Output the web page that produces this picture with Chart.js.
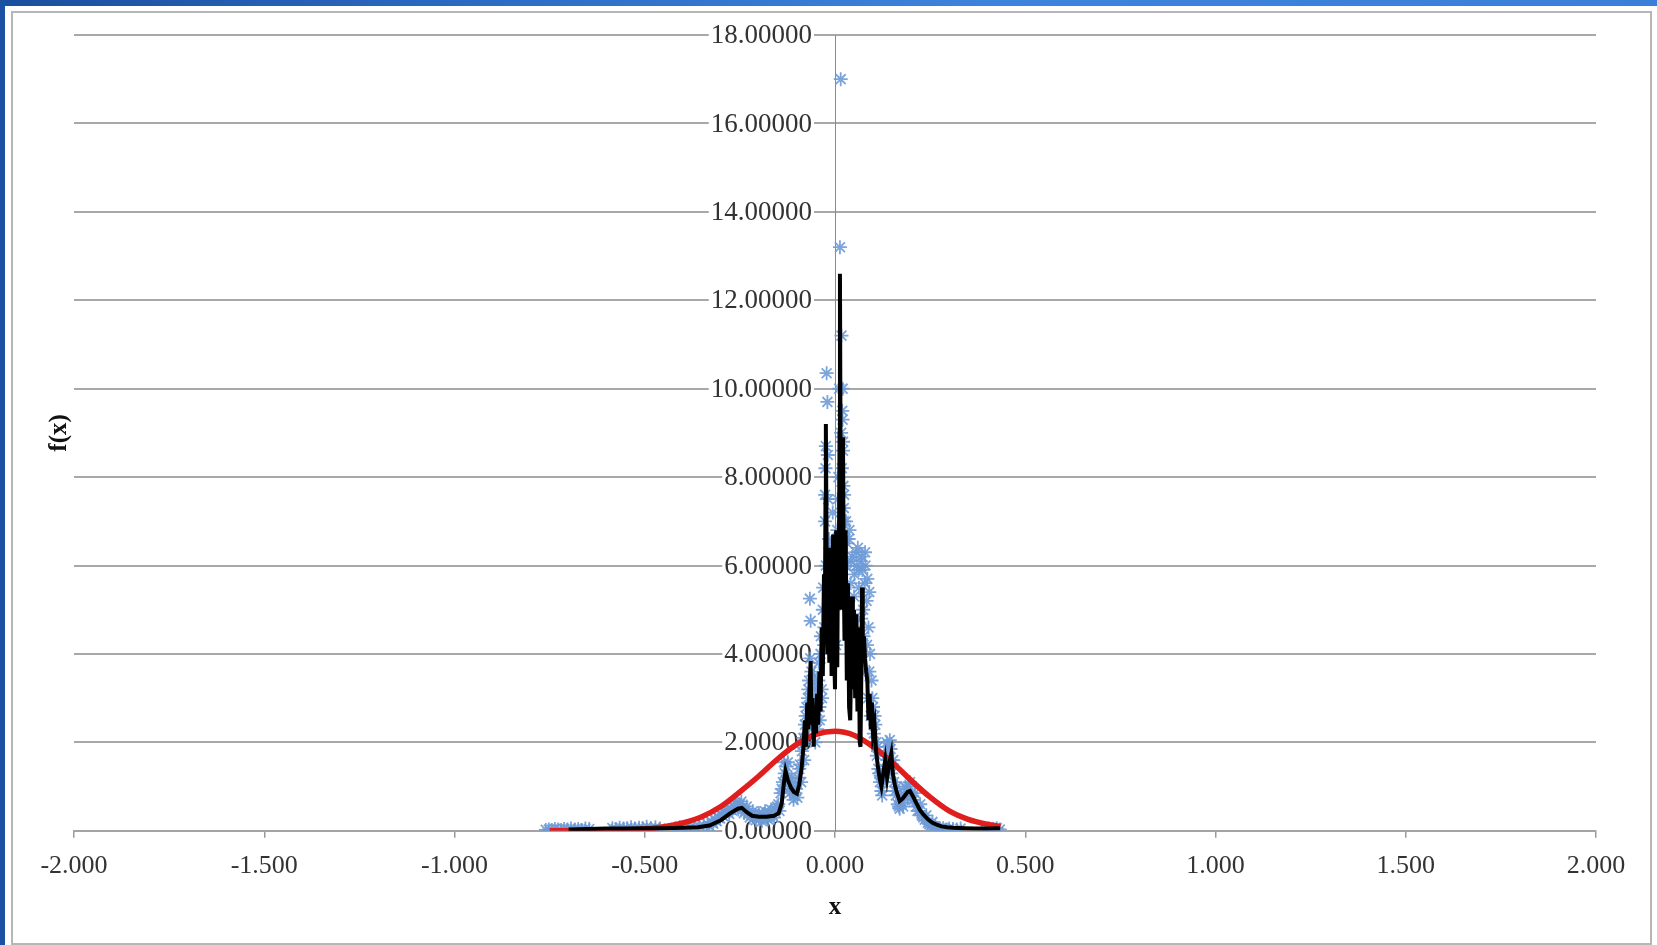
<!DOCTYPE html>
<html>
<head>
<meta charset="utf-8">
<script src="https://cdn.jsdelivr.net/npm/chart.js@4.4.0/dist/chart.umd.min.js"></script>
<style>
  html, body { margin: 0; padding: 0; background: #fff; }
  #wrap { position: relative; width: 1657px; height: 945px; overflow: hidden; background: #fff; }
  #topbar { position: absolute; left: 0; top: 0; width: 1657px; height: 6px;
            background: linear-gradient(to right, #1b4e9e, #2d6cc4 30%, #3d84de 60%, #3a80da); }
  #leftbar { position: absolute; left: 0; top: 0; width: 5px; height: 945px; background: #1b51a2; }
  #frame { position: absolute; left: 11px; top: 11px; width: 1637px; height: 930px; border: 2px solid #b6b6b6; }
  canvas { position: absolute; left: 0; top: 0; }
</style>
</head>
<body>
<div id="wrap">
  <div id="topbar"></div>
  <div id="leftbar"></div>
  <div id="frame"></div>
  <canvas id="densityChart" width="1657" height="945"></canvas>
</div>
<script>
// Curva normal ajustada (roja)
const redX = [-0.75, -0.70, -0.65, -0.60, -0.55, -0.50, -0.45, -0.40, -0.35, -0.30, -0.25, -0.20,
  -0.15, -0.10, -0.05, 0.00, 0.05, 0.10, 0.15, 0.20, 0.25, 0.30, 0.35, 0.40, 0.435];
const redY = [0.00, 0.00, 0.00, 0.01, 0.02, 0.04, 0.09, 0.18, 0.32, 0.55, 0.88, 1.24,
  1.63, 1.96, 2.18, 2.25, 2.16, 1.90, 1.55, 1.14, 0.76, 0.45, 0.26, 0.15, 0.10];

// Densidad suavizada (línea negra)
const blackX = [-0.700, -0.650, -0.600, -0.550, -0.500, -0.450, -0.400, -0.360, -0.330, -0.300,
  -0.275, -0.255, -0.245, -0.232, -0.218, -0.200, -0.180, -0.160, -0.148, -0.140,
  -0.134, -0.130, -0.124, -0.116, -0.108, -0.100, -0.094, -0.088, -0.083, -0.079,
  -0.076, -0.073, -0.070, -0.067, -0.064, -0.062, -0.059, -0.056, -0.053, -0.050,
  -0.047, -0.044, -0.041, -0.038, -0.035, -0.032, -0.029, -0.027, -0.025, -0.024,
  -0.022, -0.020, -0.018, -0.015, -0.012, -0.009, -0.006, -0.005, -0.003, 0.000,
  0.003, 0.006, 0.008, 0.010, 0.012, 0.013, 0.015, 0.017, 0.019, 0.021,
  0.023, 0.025, 0.028, 0.031, 0.034, 0.037, 0.040, 0.043, 0.045, 0.047,
  0.050, 0.053, 0.056, 0.059, 0.062, 0.065, 0.067, 0.069, 0.071, 0.073,
  0.076, 0.079, 0.082, 0.085, 0.088, 0.091, 0.094, 0.097, 0.100, 0.104,
  0.108, 0.112, 0.117, 0.122, 0.127, 0.132, 0.137, 0.142, 0.148, 0.152,
  0.157, 0.163, 0.170, 0.177, 0.184, 0.191, 0.197, 0.205, 0.214, 0.223,
  0.232, 0.244, 0.256, 0.267, 0.280, 0.295, 0.310, 0.340, 0.370, 0.400, 0.434];
const blackY = [0.03, 0.04, 0.05, 0.05, 0.06, 0.06, 0.07, 0.08, 0.12, 0.24,
  0.40, 0.50, 0.52, 0.42, 0.34, 0.32, 0.32, 0.34, 0.40, 0.62,
  1.10, 1.35, 1.15, 0.98, 0.88, 0.84, 1.05, 1.40, 1.90, 2.50,
  1.90, 2.90, 2.30, 3.20, 3.84, 2.40, 3.00, 1.90, 2.80, 2.20,
  3.10, 2.40, 3.60, 2.70, 4.60, 3.50, 5.80, 4.20, 7.50, 9.20,
  6.20, 4.00, 6.00, 3.80, 6.40, 3.50, 6.00, 6.70, 4.30, 3.20,
  6.80, 3.70, 6.50, 5.60, 9.00, 12.60, 7.50, 5.00, 7.20, 8.90,
  5.80, 4.30, 6.80, 3.40, 5.60, 2.80, 2.50, 4.20, 5.30, 3.20,
  5.00, 3.00, 4.90, 2.70, 4.60, 2.00, 1.90, 3.40, 5.50, 4.00,
  4.40, 3.90, 3.60, 3.40, 2.50, 3.10, 2.30, 2.90, 2.20, 2.40,
  1.80, 1.50, 1.20, 1.00, 1.30, 1.60, 1.20, 1.50, 1.75, 1.30,
  1.05, 0.85, 0.67, 0.72, 0.80, 0.88, 0.90, 0.78, 0.62, 0.47,
  0.37, 0.26, 0.18, 0.14, 0.10, 0.08, 0.07, 0.06, 0.05, 0.05, 0.06];

// Observaciones (asteriscos azules)
const blueX = [-0.760, -0.752, -0.744, -0.736, -0.728, -0.720, -0.712, -0.703, -0.694, -0.684,
  -0.675, -0.666, -0.656, -0.646, -0.585, -0.576, -0.566, -0.556, -0.546, -0.536,
  -0.526, -0.515, -0.505, -0.495, -0.484, -0.472, -0.460, -0.420, -0.408, -0.396,
  -0.382, -0.370, -0.357, -0.345, -0.335, -0.325, -0.316, -0.307, -0.298, -0.290,
  -0.282, -0.274, -0.266, -0.258, -0.250, -0.243, -0.236, -0.228, -0.220, -0.212,
  -0.204, -0.196, -0.188, -0.180, -0.172, -0.164, -0.156, -0.149, -0.143, -0.137,
  -0.132, -0.127, -0.122, -0.117, -0.112, -0.107, -0.102, -0.097, -0.092, -0.087,
  -0.083, -0.079, -0.075, -0.071, -0.068, -0.066, -0.064, -0.062, -0.059, -0.056,
  -0.053, -0.050, -0.047, -0.044, -0.041, -0.038, -0.035, -0.032, -0.029, -0.026,
  -0.026, -0.025, -0.024, -0.024, -0.022, -0.020, -0.018, -0.015, -0.012, -0.009,
  -0.006, -0.003, 0.000, 0.003, 0.006, 0.009, 0.011, 0.013, 0.015, 0.017,
  0.019, 0.020, 0.020, 0.021, 0.021, 0.022, 0.023, 0.023, 0.026, 0.029,
  0.032, 0.035, 0.038, 0.041, 0.045, 0.048, 0.051, 0.054, 0.057, 0.060,
  0.060, 0.063, 0.066, 0.069, 0.070, 0.072, 0.075, 0.078, 0.080, 0.081,
  0.084, 0.085, 0.087, 0.090, 0.090, 0.094, 0.098, 0.102, 0.106, 0.110,
  0.114, 0.118, 0.122, 0.126, 0.130, 0.134, 0.138, 0.142, 0.146, 0.150,
  0.155, 0.160, 0.165, 0.170, 0.176, 0.182, 0.188, 0.194, 0.200, 0.207,
  0.214, 0.221, 0.228, 0.236, 0.244, 0.252, 0.260, 0.268, 0.276, 0.284,
  0.292, 0.300, 0.310, 0.320, 0.330, 0.395, 0.405, 0.415, 0.425, 0.433];
const blueY = [0.02, 0.03, 0.02, 0.04, 0.03, 0.02, 0.04, 0.03, 0.05, 0.03,
  0.04, 0.02, 0.05, 0.04, 0.06, 0.04, 0.07, 0.05, 0.06, 0.08,
  0.05, 0.07, 0.06, 0.09, 0.06, 0.08, 0.05, 0.06, 0.08, 0.05,
  0.07, 0.09, 0.10, 0.12, 0.15, 0.20, 0.26, 0.30, 0.36, 0.40,
  0.45, 0.50, 0.55, 0.58, 0.60, 0.52, 0.45, 0.40, 0.36, 0.30,
  0.34, 0.28, 0.38, 0.30, 0.42, 0.36, 0.48, 0.60, 0.85, 1.10,
  1.30, 1.45, 1.20, 1.00, 0.90, 0.80, 0.95, 1.20, 1.50, 1.80,
  2.10, 2.40, 2.80, 3.00, 3.40, 5.25, 4.75, 3.60, 2.70, 3.20,
  2.50, 3.00, 2.30, 3.40, 2.80, 4.00, 3.20, 5.00, 4.20, 7.00,
  7.60, 8.20, 8.70, 6.00, 10.35, 9.70, 7.50, 5.50, 6.40, 4.80,
  7.20, 5.00, 6.00, 4.20, 6.80, 8.00, 10.00, 13.20, 17.00, 11.20,
  9.50, 10.00, 9.30, 8.60, 8.80, 7.80, 7.30, 7.00, 6.00, 7.00,
  6.50, 5.20, 6.80, 5.60, 6.20, 4.60, 5.80, 4.00, 6.00, 4.50,
  6.40, 5.50, 3.80, 4.80, 6.20, 5.90, 4.40, 5.60, 6.00, 3.60,
  4.20, 5.70, 3.00, 3.60, 5.40, 2.60, 3.00, 2.20, 2.40, 1.70,
  1.40, 1.10, 0.90, 1.10, 1.40, 1.70, 1.90, 1.60, 1.85, 1.50,
  1.10, 0.80, 0.60, 0.50, 0.65, 0.80, 0.95, 1.00, 0.85, 0.70,
  0.55, 0.45, 0.35, 0.25, 0.18, 0.12, 0.08, 0.05, 0.04, 0.06,
  0.03, 0.05, 0.04, 0.03, 0.05, 0.03, 0.05, 0.04, 0.06, 0.03];

// Más observaciones alrededor de los flancos y del pico
const haloX = [-0.330, -0.320, -0.311, -0.302, -0.294, -0.286, -0.278, -0.270, -0.262, -0.254,
  -0.246, -0.239, -0.232, -0.224, -0.216, -0.208, -0.200, -0.192, -0.184, -0.176,
  -0.168, -0.160, -0.152, -0.146, -0.140, -0.134, -0.129, -0.124, -0.119, -0.114,
  -0.109, -0.104, -0.099, -0.094, -0.089, -0.085, -0.081, -0.077, -0.073, -0.070,
  -0.067, -0.065, -0.061, -0.058, -0.055, -0.052, -0.049, -0.046, -0.043, -0.040,
  -0.037, -0.034, -0.031, -0.028,
  -0.019, -0.016, -0.010, -0.004, 0.002, 0.007, 0.016, 0.018, 0.024, 0.027,
  0.030, 0.036, 0.042, 0.050, 0.056, 0.062, 0.068, 0.074, 0.079, 0.083,
  0.088, 0.092,
  0.096, 0.100, 0.104, 0.108, 0.112, 0.116, 0.120, 0.124, 0.128, 0.132,
  0.136, 0.140, 0.144, 0.148, 0.153, 0.158, 0.163, 0.168, 0.173, 0.179,
  0.185, 0.191, 0.197, 0.203, 0.210, 0.217, 0.224, 0.232, 0.240, 0.248,
  0.256, 0.264];
const haloY = [0.10, 0.16, 0.22, 0.28, 0.33, 0.42, 0.38, 0.46, 0.62, 0.48,
  0.66, 0.40, 0.55, 0.30, 0.44, 0.24, 0.40, 0.22, 0.44, 0.26,
  0.48, 0.30, 0.55, 0.45, 0.95, 1.55, 1.15, 1.55, 0.85, 1.20,
  0.70, 1.05, 0.75, 1.40, 1.10, 1.95, 1.60, 2.60, 2.20, 3.20,
  2.60, 3.90, 3.10, 2.40, 3.50, 2.00, 3.30, 2.70, 3.80, 2.50,
  4.40, 3.00, 5.50, 4.60,
  8.50, 6.60, 5.80, 6.50, 5.50, 7.50, 9.00, 8.20, 7.60, 6.60,
  6.00, 6.60, 6.10, 5.30, 6.30, 5.90, 6.10, 5.00, 6.30, 5.20,
  4.60, 4.00,
  3.40, 2.80, 2.60, 2.00, 1.90, 1.30, 1.25, 0.80, 1.30, 1.20,
  2.00, 1.35, 2.05, 1.30, 1.60, 0.90, 1.00, 0.55, 0.80, 0.55,
  1.00, 0.75, 1.10, 0.70, 0.85, 0.45, 0.60, 0.30, 0.35, 0.15,
  0.20, 0.10];

// Ejes
const xMin = -2, xMax = 2, xStep = 0.5;
const yMin = 0, yMax = 18, yStep = 2;

const serif = "'Liberation Serif', 'Times New Roman', serif";

// Etiquetas del eje Y junto al eje (con fondo blanco, debajo de los datos)
const yLabels = {
  id: 'yLabels',
  beforeDatasetsDraw(chart) {
    const { ctx, scales } = chart;
    const axisX = scales.x.getPixelForValue(0);
    ctx.save();
    ctx.font = '27px ' + serif;
    ctx.textAlign = 'right';
    ctx.textBaseline = 'middle';
    scales.y.ticks.forEach((t) => {
      const y = scales.y.getPixelForValue(t.value);
      const label = t.value.toFixed(5);
      const w = ctx.measureText(label).width;
      ctx.fillStyle = '#ffffff';
      ctx.fillRect(axisX - 23 - w - 2, y - 10, w + 4, 20);
      ctx.fillStyle = '#333333';
      ctx.fillText(label, axisX - 23, y + 1);
    });
    ctx.restore();
  }
};

// Títulos de ejes
const axisTitles = {
  id: 'axisTitles',
  afterDraw(chart) {
    const { ctx, chartArea, scales } = chart;
    ctx.save();
    ctx.fillStyle = '#111';
    ctx.font = 'bold 25px ' + serif;
    ctx.textAlign = 'center';
    ctx.textBaseline = 'middle';
    ctx.fillText('x', scales.x.getPixelForValue(0), chartArea.bottom + 77);
    ctx.translate(60, (chartArea.top + chartArea.bottom) / 2);
    ctx.rotate(-Math.PI / 2);
    ctx.fillText('f(x)', 0, 0);
    ctx.restore();
  }
};

const densityData = {
  datasets: [
    {
      label: 'Densidad suavizada',
      data: blackX.map((x, i) => ({ x: x, y: blackY[i] })),
      showLine: true,
      borderColor: '#000000',
      borderWidth: 4,
      pointRadius: 0,
      tension: 0
    },
    {
      label: 'Normal',
      data: redX.map((x, i) => ({ x: x, y: redY[i] })),
      showLine: true,
      borderColor: '#e01e1e',
      borderWidth: 5.5,
      pointRadius: 0,
      cubicInterpolationMode: 'monotone'
    },
    {
      label: 'f(x) observada',
      data: blueX.map((x, i) => ({ x: x, y: blueY[i] }))
        .concat(haloX.map((x, i) => ({ x: x, y: haloY[i] }))),
      showLine: false,
      pointStyle: 'star',
      pointRadius: 7,
      pointBorderWidth: 1.8,
      borderColor: 'rgba(110, 155, 215, 0.9)',
      backgroundColor: 'rgba(110, 155, 215, 0.9)'
    }
  ]
};

const densityConfig = {
  type: 'scatter',
  data: densityData,
  options: {
    responsive: false,
    animation: false,
    devicePixelRatio: 1,
    layout: { padding: { left: 74, right: 61, top: 35, bottom: 50 } },
    plugins: { legend: { display: false }, tooltip: { enabled: false } },
    scales: {
      x: {
        type: 'linear',
        min: xMin,
        max: xMax,
        grid: { drawOnChartArea: false, drawTicks: true, tickLength: 7, color: '#9a9a9a', lineWidth: 1.5 },
        border: { display: true, color: '#a4a4a4', width: 2 },
        ticks: {
          stepSize: xStep,
          autoSkip: false,
          maxRotation: 0,
          padding: 13,
          color: '#333',
          font: { family: serif, size: 26 },
          callback: (v) => v.toFixed(3)
        }
      },
      y: {
        type: 'linear',
        position: { x: 0 },
        min: yMin,
        max: yMax,
        grid: { color: '#a8a8a8', lineWidth: 2, drawTicks: false },
        border: { display: true, color: '#8a8a8a', width: 1 },
        ticks: {
          stepSize: yStep,
          display: false
        }
      }
    }
  },
  plugins: [yLabels, axisTitles]
};

const densityChart = new Chart(
  document.getElementById('densityChart'),
  densityConfig
);
</script>
</body>
</html>
